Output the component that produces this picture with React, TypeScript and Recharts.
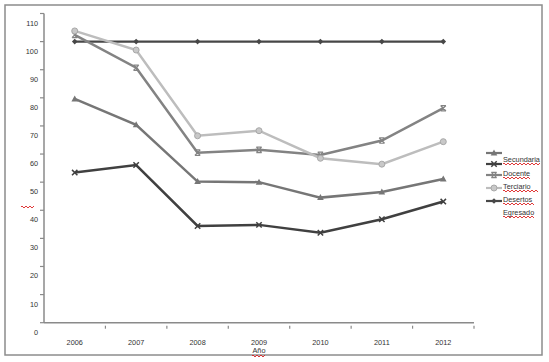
import { LineChart, Line, XAxis, YAxis } from 'recharts';

const years = ['2006', '2007', '2008', '2009', '2010', '2011', '2012'];
const serieTriangulo = [79.6, 70.4, 50.2, 50.0, 44.5, 46.5, 51.1];
const secundaria = [53.4, 56.1, 34.4, 34.8, 32.0, 36.8, 43.1];
const docente = [102.4, 90.7, 60.5, 61.5, 59.7, 64.8, 76.3];
const terciario = [103.8, 97.0, 66.5, 68.3, 58.5, 56.4, 64.4];
const desertos = [100, 100, 100, 100, 100, 100, 100];
const yTicks = [0, 10, 20, 30, 40, 50, 60, 70, 80, 90, 100, 110];
const legendLabels = ['', 'Secundaria', 'Docente', 'Terciario', 'Desertos', 'Egresado'];

const data = years.map((y, i) => ({
  year: y,
  tri: serieTriangulo[i],
  sec: secundaria[i],
  doc: docente[i],
  ter: terciario[i],
  des: desertos[i],
}));

const FONT = '"Liberation Sans", Arial, sans-serif';
const TEXT = '#333';
const AXIS = '#8a8a8a';
const BAND = (474 - 44) / 7;

const C_TRI = '#767676';
const C_SEC = '#404040';
const C_DOC = '#838383';
const C_TER = '#bdbdbd';
const C_DES = '#474747';

function Triangle({ cx, cy, color }: { cx: number; cy: number; color: string }) {
  return <path d={`M${cx},${cy - 3.5}L${cx + 3.3},${cy + 2.5}L${cx - 3.3},${cy + 2.5}Z`} fill={color} />;
}
function Cross({ cx, cy, color }: { cx: number; cy: number; color: string }) {
  return (
    <path
      d={`M${cx - 2.7},${cy - 2.7}L${cx + 2.7},${cy + 2.7}M${cx + 2.7},${cy - 2.7}L${cx - 2.7},${cy + 2.7}`}
      stroke={color}
      strokeWidth={1.5}
    />
  );
}
function Star({ cx, cy, color }: { cx: number; cy: number; color: string }) {
  return (
    <path
      d={`M${cx - 2.7},${cy - 2.7}L${cx + 2.7},${cy + 2.7}M${cx + 2.7},${cy - 2.7}L${cx - 2.7},${cy + 2.7}M${cx - 2.7},${cy - 2.7}L${cx + 2.7},${cy - 2.7}M${cx - 2.7},${cy + 2.7}L${cx + 2.7},${cy + 2.7}`}
      stroke={color}
      strokeWidth={1.2}
    />
  );
}
function Circle({ cx, cy }: { cx: number; cy: number }) {
  return <circle cx={cx} cy={cy} r={3} fill="#c8c8c8" stroke="#a8a8a8" strokeWidth={1} />;
}
function Diamond({ cx, cy, color }: { cx: number; cy: number; color: string }) {
  return <path d={`M${cx},${cy - 2.8}L${cx + 2.8},${cy}L${cx},${cy + 2.8}L${cx - 2.8},${cy}Z`} fill={color} />;
}

function XTick(props: any) {
  const { x, y, payload } = props;
  return (
    <g>
      <line x1={x + BAND / 2} y1={y - 2} x2={x + BAND / 2} y2={y - 5} stroke={AXIS} strokeWidth={1.2} />
      <text x={x} y={y + 14} textAnchor="middle" fontSize={7.3} fill={TEXT} fontFamily={FONT}>
        {payload.value}
      </text>
    </g>
  );
}

function YTick(props: any) {
  const { x, y, payload } = props;
  return (
    <text x={x} y={y + 12} textAnchor="end" fontSize={7.3} fill={TEXT} fontFamily={FONT}>
      {payload.value}
    </text>
  );
}

function squiggle(x: number, y: number, w: number) {
  let d = `M${x},${y}`;
  for (let i = 0; i < w; i += 2) d += `L${x + i + 1},${y + (i % 4 === 0 ? -1 : 1)}`;
  return <path d={d} stroke="#d22" strokeWidth={0.9} fill="none" />;
}

function Legend() {
  const rows = [
    { y: 153, el: (cx: number, cy: number) => <Triangle cx={cx} cy={cy} color={C_TRI} />, c: C_TRI },
    { y: 164, el: (cx: number, cy: number) => <Cross cx={cx} cy={cy} color={C_SEC} />, c: C_SEC },
    { y: 175, el: (cx: number, cy: number) => <Star cx={cx} cy={cy} color={C_DOC} />, c: C_DOC },
    { y: 188, el: (cx: number, cy: number) => <Circle cx={cx} cy={cy} />, c: C_TER },
    { y: 201, el: (cx: number, cy: number) => <Diamond cx={cx} cy={cy} color={C_DES} />, c: C_DES },
  ];
  const textY = [0, 162, 176, 189, 202, 215];
  return (
    <g>
      {rows.map((r, i) => (
        <g key={i}>
          <line x1={486} y1={r.y} x2={502} y2={r.y} stroke={r.c} strokeWidth={2.2} />
          {r.el(494, r.y)}
        </g>
      ))}
      {legendLabels.map((t, i) =>
        t ? (
          <g key={t}>
            <text x={503} y={textY[i]} fontSize={7.3} fill={TEXT} fontFamily={FONT}>
              {t}
            </text>
            {squiggle(503, textY[i] + 2, t.length * 3.8)}
          </g>
        ) : null,
      )}
    </g>
  );
}

export default function App() {
  return (
    <div style={{ position: 'absolute', left: 0, top: 0, width: 549, height: 362, background: '#fff' }}>
      <LineChart width={549} height={362} data={data} margin={{ top: 13.5, right: 75, left: 0, bottom: 19.3 }}>
        <XAxis
          dataKey="year"
          scale="band"
          height={20}
          axisLine={{ stroke: AXIS, strokeWidth: 1.5 }}
          tickLine={false}
          tick={<XTick />}
          interval={0}
        />
        <YAxis
          domain={[0, 110]}
          ticks={yTicks}
          width={44}
          axisLine={{ stroke: AXIS, strokeWidth: 1.5 }}
          tickLine={{ stroke: AXIS, strokeWidth: 1.2 }}
          tickSize={4}
          tick={<YTick />}
          interval={0}
        />
        <Line
          dataKey="des"
          stroke={C_DES}
          strokeWidth={2.2}
          isAnimationActive={false}
          dot={(p: any) => <Diamond key={p.index} cx={p.cx} cy={p.cy} color={C_DES} />}
        />
        <Line
          dataKey="tri"
          stroke={C_TRI}
          strokeWidth={2.5}
          isAnimationActive={false}
          dot={(p: any) => <Triangle key={p.index} cx={p.cx} cy={p.cy} color={C_TRI} />}
        />
        <Line
          dataKey="sec"
          stroke={C_SEC}
          strokeWidth={2.5}
          isAnimationActive={false}
          dot={(p: any) => <Cross key={p.index} cx={p.cx} cy={p.cy} color={C_SEC} />}
        />
        <Line
          dataKey="doc"
          stroke={C_DOC}
          strokeWidth={2.5}
          isAnimationActive={false}
          dot={(p: any) => <Star key={p.index} cx={p.cx} cy={p.cy} color={C_DOC} />}
        />
        <Line
          dataKey="ter"
          stroke={C_TER}
          strokeWidth={2.5}
          isAnimationActive={false}
          dot={(p: any) => <Circle key={p.index} cx={p.cx} cy={p.cy} />}
        />
      </LineChart>
      <svg width={549} height={362} style={{ position: 'absolute', left: 0, top: 0, pointerEvents: 'none' }}>
        <rect x={5} y={5} width={537} height={350} fill="none" stroke="#8c8c8c" strokeWidth={1.5} />
        <Legend />
        {squiggle(21, 207, 13)}
        <text x={259} y={353} textAnchor="middle" fontSize={7.3} fill={TEXT} fontFamily={FONT}>
          Año
        </text>
        {squiggle(252, 356, 14)}
      </svg>
    </div>
  );
}
